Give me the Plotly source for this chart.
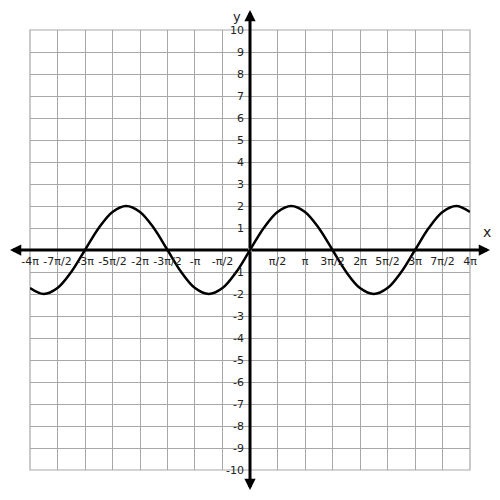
import plotly.graph_objects as go
import math

PI = math.pi

# Curve samples (x in radians, y values)
curve_x = [-12.566, -11.781, -10.996, -10.210, -9.425, -8.639, -7.854, -7.069,
           -6.283, -5.498, -4.712, -3.927, -3.142, -2.356, -1.571, -0.785,
           0.0, 0.785, 1.571, 2.356, 3.142, 3.927, 4.712, 5.498,
           6.283, 7.069, 7.854, 8.639, 9.425, 10.210, 10.996, 11.781, 12.566]
curve_y = [-1.73, -2.0, -1.73, -1.0, 0.0, 1.0, 1.73, 2.0,
           1.73, 1.0, 0.0, -1.0, -1.73, -2.0, -1.73, -1.0,
           0.0, 1.0, 1.73, 2.0, 1.73, 1.0, 0.0, -1.0,
           -1.73, -2.0, -1.73, -1.0, 0.0, 1.0, 1.73, 2.0, 1.73]

# Tick labels
x_tick_vals = [-12.566, -10.996, -9.425, -7.854, -6.283, -4.712, -3.142, -1.571,
               1.571, 3.142, 4.712, 6.283, 7.854, 9.425, 10.996, 12.566]
x_tick_text = ["-4π", "-7π/2", "-3π", "-5π/2", "-2π", "-3π/2", "-π", "-π/2",
               "π/2", "π", "3π/2", "2π", "5π/2", "3π", "7π/2", "4π"]
y_tick_vals = [-10, -9, -8, -7, -6, -5, -4, -3, -2, -1,
               1, 2, 3, 4, 5, 6, 7, 8, 9, 10]
y_tick_text = ["-10", "-9", "-8", "-7", "-6", "-5", "-4", "-3", "-2", "-1",
               "1", "2", "3", "4", "5", "6", "7", "8", "9", "10"]

FONT = "DejaVu Sans"
GRID = "#a8a8a8"

fig = go.Figure()
fig.add_trace(go.Scatter(
    x=curve_x, y=curve_y, mode="lines",
    line=dict(color="black", width=2.5, shape="spline", smoothing=1.0),
    hoverinfo="skip", showlegend=False, cliponaxis=False,
))

# the page body adds an 8px offset, so the figure is 484px with 22px margins
fig.update_layout(
    width=484, height=484,
    margin=dict(l=22, r=22, t=22, b=22, autoexpand=False),
    paper_bgcolor="white", plot_bgcolor="white",
    showlegend=False,
    font=dict(family=FONT, size=11, color="#222"),
    xaxis=dict(
        range=[-4 * PI, 4 * PI], tickmode="array",
        tickvals=x_tick_vals, ticktext=x_tick_text,
        showgrid=True, gridcolor=GRID, gridwidth=1.2,
        zeroline=False, showline=False, ticks="",
        anchor="free", position=0.5, tickangle=0,
        ticklabelstandoff=3, automargin=False,
        tickfont=dict(family=FONT, size=11, color="#222"),
    ),
    yaxis=dict(
        range=[-10, 10], tickmode="array",
        tickvals=y_tick_vals, ticktext=y_tick_text,
        showgrid=True, gridcolor=GRID, gridwidth=1.2,
        zeroline=False, showline=False, ticks="",
        anchor="free", position=0.5,
        ticklabelstandoff=6, automargin=False,
        tickfont=dict(family=FONT, size=11, color="#222"),
    ),
    shapes=[dict(type="rect", xref="paper", yref="paper", x0=0, y0=0, x1=1, y1=1,
                 line=dict(color=GRID, width=1.2), layer="below")],
)

# axis arrows (from origin outward)
arrow_common = dict(xref="paper", yref="paper", axref="pixel", ayref="pixel",
                    showarrow=True, arrowhead=2, arrowsize=0.75, arrowwidth=3,
                    arrowcolor="black", text="", standoff=0, startstandoff=0)
fig.add_annotation(x=0.5, y=(470 - 10) / 440, ax=0, ay=240, **arrow_common)
fig.add_annotation(x=0.5, y=(470 - 490) / 440, ax=0, ay=-240, **arrow_common)
fig.add_annotation(x=(10 - 30) / 440, y=0.5, ax=240, ay=0, **arrow_common)
fig.add_annotation(x=(490 - 30) / 440, y=0.5, ax=-240, ay=0, **arrow_common)

# axis names (invisible arrow so the text is not pushed inside the figure)
name_common = dict(xref="paper", yref="paper", showarrow=True, arrowhead=0,
                   arrowwidth=0.5, arrowcolor="rgba(0,0,0,0)", ax=0, ay=0)
fig.add_annotation(x=(487 - 30) / 440, y=(470 - 232) / 440, text="x",
                   font=dict(family=FONT, size=14, color="#222"), **name_common)
fig.add_annotation(x=(237 - 30) / 440, y=(470 - 16) / 440, text="y",
                   font=dict(family=FONT, size=13, color="#222"), **name_common)

fig.write_html("out.html")
